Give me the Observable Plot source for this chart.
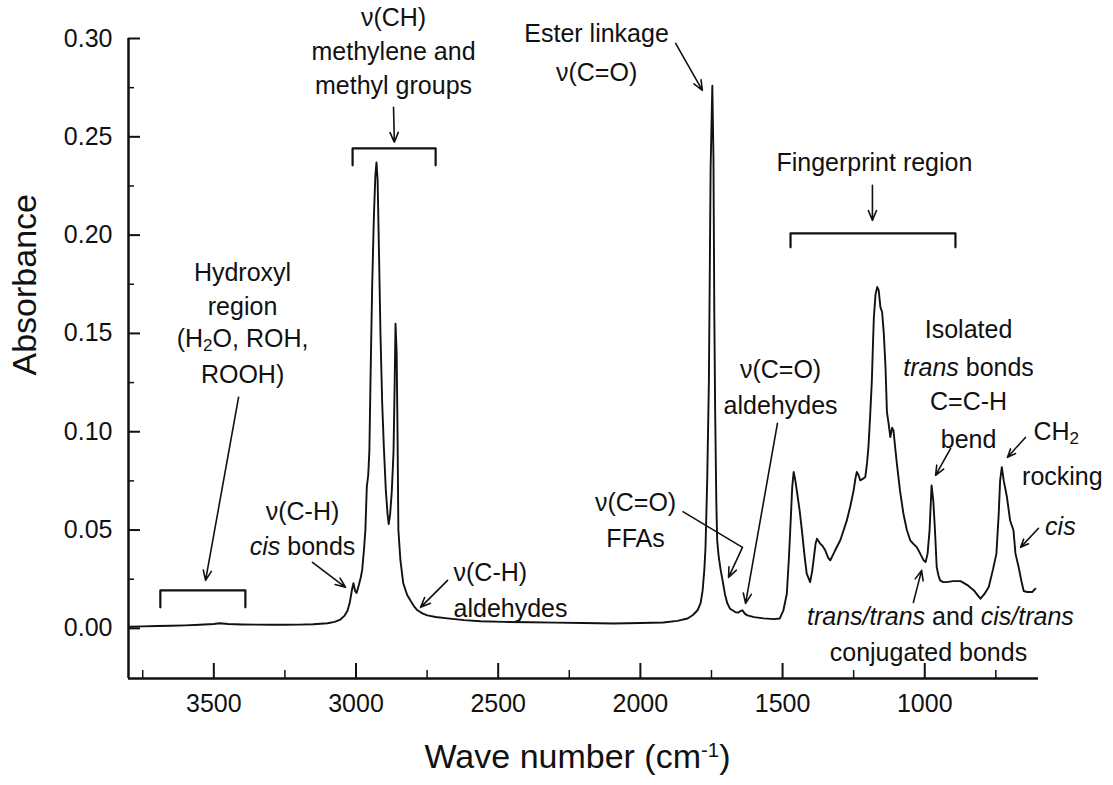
<!DOCTYPE html>
<html><head><meta charset="utf-8">
<script src="https://cdn.jsdelivr.net/npm/d3@7"></script>
<script src="https://cdn.jsdelivr.net/npm/@observablehq/plot@0.6"></script>
<style>
body{margin:0;background:#fff}
#chart{width:1113px;height:785px}
</style>
</head><body><div id="chart"></div>
<script>
// ---- spectrum (wavenumber in cm-1, absorbance) ----
const wavenumber = [3795,3750,3700,3650,3600,3550,3500,3480,3450,3400,3350,3300,3250,3200,3150,3100,3075,3055,3040,3030,3022,3015,3009,3003,2998,2990,2983,2978,2972,2967,2962,2957,2953,2949,2943,2937,2932,2928,2924,2919,2914,2908,2902,2895,2889,2885,2880,2874,2868,2864,2861,2857,2854,2851,2844,2834,2820,2808,2795,2784,2765,2749,2720,2678,2620,2562,2480,2386,2300,2200,2094,2000,1919,1870,1834,1815,1799,1788,1781,1775,1771,1765,1759,1753,1747,1743,1740,1737,1733,1730,1725,1718,1711,1702,1694,1685,1676,1665,1655,1648,1641,1633,1624,1600,1567,1530,1510,1497,1485,1478,1473,1466,1461,1456,1450,1440,1432,1422,1415,1403,1396,1391,1384,1379,1372,1368,1360,1350,1340,1332,1324,1315,1297,1285,1274,1262,1250,1244,1239,1233,1227,1218,1209,1203,1198,1192,1186,1182,1179,1173,1167,1162,1156,1150,1144,1138,1133,1127,1121,1115,1110,1104,1098,1087,1075,1063,1051,1040,1028,1016,1004,997,990,983,976,970,964,958,952,946,935,923,900,874,850,827,815,804,790,775,760,748,740,735,729,722,711,700,688,681,670,660,652,640,629,622,611];
const absorbance = [0.0008,0.0010,0.0012,0.0013,0.0015,0.0018,0.0022,0.0026,0.0022,0.0020,0.0019,0.0018,0.0018,0.0019,0.0021,0.0026,0.0033,0.0045,0.0065,0.009,0.013,0.019,0.023,0.019,0.018,0.022,0.026,0.030,0.040,0.050,0.072,0.078,0.090,0.126,0.175,0.210,0.230,0.237,0.228,0.190,0.150,0.115,0.092,0.070,0.058,0.053,0.058,0.070,0.090,0.125,0.155,0.140,0.100,0.050,0.035,0.023,0.017,0.014,0.011,0.0092,0.0075,0.0066,0.0058,0.0051,0.0042,0.0036,0.0033,0.0031,0.0029,0.0027,0.0025,0.0027,0.0030,0.0038,0.0050,0.0068,0.0092,0.013,0.0193,0.030,0.041,0.075,0.126,0.234,0.276,0.240,0.160,0.110,0.065,0.045,0.037,0.030,0.0244,0.017,0.0127,0.010,0.0092,0.0082,0.0081,0.0088,0.0092,0.0075,0.0066,0.0057,0.0051,0.0047,0.0050,0.0092,0.0176,0.035,0.0498,0.072,0.0795,0.076,0.0702,0.060,0.0498,0.036,0.0278,0.0235,0.029,0.0346,0.043,0.0456,0.044,0.0431,0.042,0.0397,0.036,0.0346,0.037,0.0397,0.0448,0.050,0.0549,0.062,0.0702,0.076,0.0795,0.078,0.0753,0.076,0.0770,0.084,0.0922,0.108,0.126,0.145,0.158,0.170,0.1736,0.172,0.1634,0.1609,0.150,0.1329,0.110,0.104,0.0973,0.102,0.1007,0.092,0.0838,0.070,0.0583,0.050,0.0448,0.0430,0.0413,0.038,0.0346,0.0337,0.038,0.050,0.0727,0.065,0.0498,0.0312,0.027,0.0244,0.0235,0.0235,0.024,0.0240,0.022,0.0193,0.017,0.0151,0.0175,0.021,0.030,0.038,0.058,0.075,0.082,0.075,0.0668,0.055,0.0498,0.038,0.0312,0.024,0.0190,0.0185,0.0185,0.0185,0.0202];

// ---- axes ----
const xDomain = [3800, 600];
const yDomain = [-0.0255, 0.30];
const xTicks = [3500, 3000, 2500, 2000, 1500, 1000];
const xMinorTicks = [3750, 3250, 2750, 2250, 1750, 1250, 750];
const yTicks = [0, 0.05, 0.10, 0.15, 0.20, 0.25, 0.30];
const yMinorTicks = [0.025, 0.075, 0.125, 0.175, 0.225, 0.275];
const xTitle = "Wave number (cm^-1^)";
const yTitle = "Absorbance";

// ---- annotations (anchored in data units) ----
const annotations = [
  {text: "ν(CH)", x: 2868, y: 0.3102},
  {text: "methylene and", x: 2868, y: 0.2930},
  {text: "methyl groups", x: 2868, y: 0.2759},
  {text: "Ester linkage", x: 2154, y: 0.3021},
  {text: "ν(C=O)", x: 2154, y: 0.2823},
  {text: "Fingerprint region", x: 1177, y: 0.2365},
  {text: "Hydroxyl", x: 3399, y: 0.1806},
  {text: "region", x: 3399, y: 0.1636},
  {text: "(H_2_O, ROH,", x: 3399, y: 0.1472},
  {text: "ROOH)", x: 3399, y: 0.1287},
  {text: "ν(C-H)", x: 3188, y: 0.0590},
  {text: "*cis* bonds", x: 3188, y: 0.0412},
  {text: "ν(C-H)", x: 2657, y: 0.0280, anchor: "start"},
  {text: "aldehydes", x: 2657, y: 0.0097, anchor: "start"},
  {text: "ν(C=O)", x: 2017, y: 0.0636},
  {text: "FFAs", x: 2017, y: 0.0453},
  {text: "ν(C=O)", x: 1507, y: 0.1312},
  {text: "aldehydes", x: 1507, y: 0.1129},
  {text: "Isolated", x: 846, y: 0.1516},
  {text: "*trans* bonds", x: 846, y: 0.1322},
  {text: "C=C-H", x: 846, y: 0.1149},
  {text: "bend", x: 846, y: 0.0956},
  {text: "CH_2_", x: 618, y: 0.0997, anchor: "start"},
  {text: "rocking", x: 516, y: 0.0768},
  {text: "*cis*", x: 523, y: 0.0514},
  {text: "*trans/trans* and *cis/trans*", x: 945, y: 0.0056},
  {text: "conjugated bonds", x: 987, y: -0.0127}
];
const arrows = [
  {x1: 2868, y1: 0.2650, x2: 2865, y2: 0.2472},
  {x1: 1876, y1: 0.2975, x2: 1782, y2: 0.2736},
  {x1: 1184, y1: 0.2253, x2: 1184, y2: 0.2075},
  {x1: 3413, y1: 0.1175, x2: 3529, y2: 0.0244},
  {x1: 3153, y1: 0.0336, x2: 3037, y2: 0.0209},
  {x1: 2678, y1: 0.0244, x2: 2773, y2: 0.0107},
  {x1: 1641, y1: 0.0412, x2: 1690, y2: 0.0259},
  {x1: 1518, y1: 0.1043, x2: 1630, y2: 0.0127},
  {x1: 909, y1: 0.0915, x2: 962, y2: 0.0778},
  {x1: 646, y1: 0.0971, x2: 709, y2: 0.0870},
  {x1: 600, y1: 0.0509, x2: 663, y2: 0.0412},
  {x1: 1040, y1: 0.0132, x2: 1011, y2: 0.0295}
];
const leaders = [
  {x1: 1852, y1: 0.0595, x2: 1641, y2: 0.0412}
];
const brackets = [
  {id: "ch", x: 3012, y: 0.2355}, {id: "ch", x: 3012, y: 0.2441}, {id: "ch", x: 2720, y: 0.2441}, {id: "ch", x: 2720, y: 0.2355},
  {id: "oh", x: 3688, y: 0.0107}, {id: "oh", x: 3688, y: 0.0193}, {id: "oh", x: 3389, y: 0.0193}, {id: "oh", x: 3389, y: 0.0107},
  {id: "fp", x: 1472, y: 0.1938}, {id: "fp", x: 1472, y: 0.2009}, {id: "fp", x: 892, y: 0.2009}, {id: "fp", x: 892, y: 0.1938}
];

const spectrum = wavenumber.map((w, i) => ({w, a: absorbance[i]}));
const ink = "#111";

const plot = Plot.plot({
  width: 1113,
  height: 785,
  marginLeft: 128,
  marginRight: 75,
  marginTop: 38,
  marginBottom: 107,
  style: {fontFamily: "'Liberation Sans', Arial, sans-serif", fontSize: "25px", color: ink, background: "#fff"},
  x: {domain: xDomain},
  y: {domain: yDomain},
  marks: [
    Plot.ruleX([xDomain[0]], {stroke: ink, strokeWidth: 2.5}),
    Plot.ruleY([yDomain[0]], {stroke: ink, strokeWidth: 2.5}),
    Plot.axisY(yTicks, {tickSize: -12, fill: "none", stroke: ink, strokeWidth: 2}),
    Plot.axisY(yMinorTicks, {tickSize: -6, fill: "none", stroke: ink, strokeWidth: 1.5}),
    Plot.axisY(yTicks, {tickSize: 0, tickPadding: 16, tickFormat: d => d.toFixed(2), fill: ink, label: null}),
    Plot.axisX(xTicks, {tickSize: -15, fill: "none", stroke: ink, strokeWidth: 2}),
    Plot.axisX(xMinorTicks, {tickSize: -8, fill: "none", stroke: ink, strokeWidth: 1.5}),
    Plot.axisX(xTicks, {tickSize: 0, tickPadding: 16, tickFormat: "d", fill: ink, label: null}),
    Plot.text([xTitle], {frameAnchor: "bottom", dx: -6, dy: 79, lineAnchor: "middle", fontSize: 34, fill: ink}),
    Plot.text([yTitle], {frameAnchor: "left", rotate: -90, dx: -103, dy: 17, lineAnchor: "middle", fontSize: 34, fill: ink}),
    Plot.line(spectrum, {x: "w", y: "a", stroke: ink, strokeWidth: 1.9, curve: "linear"}),
    Plot.line(brackets, {x: "x", y: "y", z: "id", stroke: ink, strokeWidth: 2.2}),
    Plot.link(leaders, {x1: "x1", y1: "y1", x2: "x2", y2: "y2", stroke: ink, strokeWidth: 1.6}),
    Plot.arrow(arrows, {x1: "x1", y1: "y1", x2: "x2", y2: "y2", stroke: ink, strokeWidth: 1.6, headLength: 10, headAngle: 45}),
    Plot.text(annotations.filter(d => d.anchor !== "start"), {x: "x", y: "y", text: "text", textAnchor: "middle", lineAnchor: "middle", fill: ink}),
    Plot.text(annotations.filter(d => d.anchor === "start"), {x: "x", y: "y", text: "text", textAnchor: "start", lineAnchor: "middle", fill: ink})
  ]
});

// Rich text: *italic*, _subscript_, ^superscript^
d3.select(plot).selectAll("text").each(function() {
  const t = this.textContent;
  if (!/[*_^]/.test(t)) return;
  const parts = t.split(/(\*[^*]+\*|_[^_]+_|\^[^^]+\^)/).filter(s => s);
  const sel = d3.select(this);
  sel.text(null);
  for (const p of parts) {
    const ts = sel.append("tspan");
    if (p[0] === "*") ts.text(p.slice(1, -1)).attr("font-style", "italic");
    else if (p[0] === "_") ts.text(p.slice(1, -1)).attr("baseline-shift", "-4px").attr("font-size", "68%");
    else if (p[0] === "^") ts.text(p.slice(1, -1)).attr("baseline-shift", "super").attr("font-size", "60%");
    else ts.text(p);
  }
});

document.getElementById("chart").appendChild(plot);
</script>
</body></html>
